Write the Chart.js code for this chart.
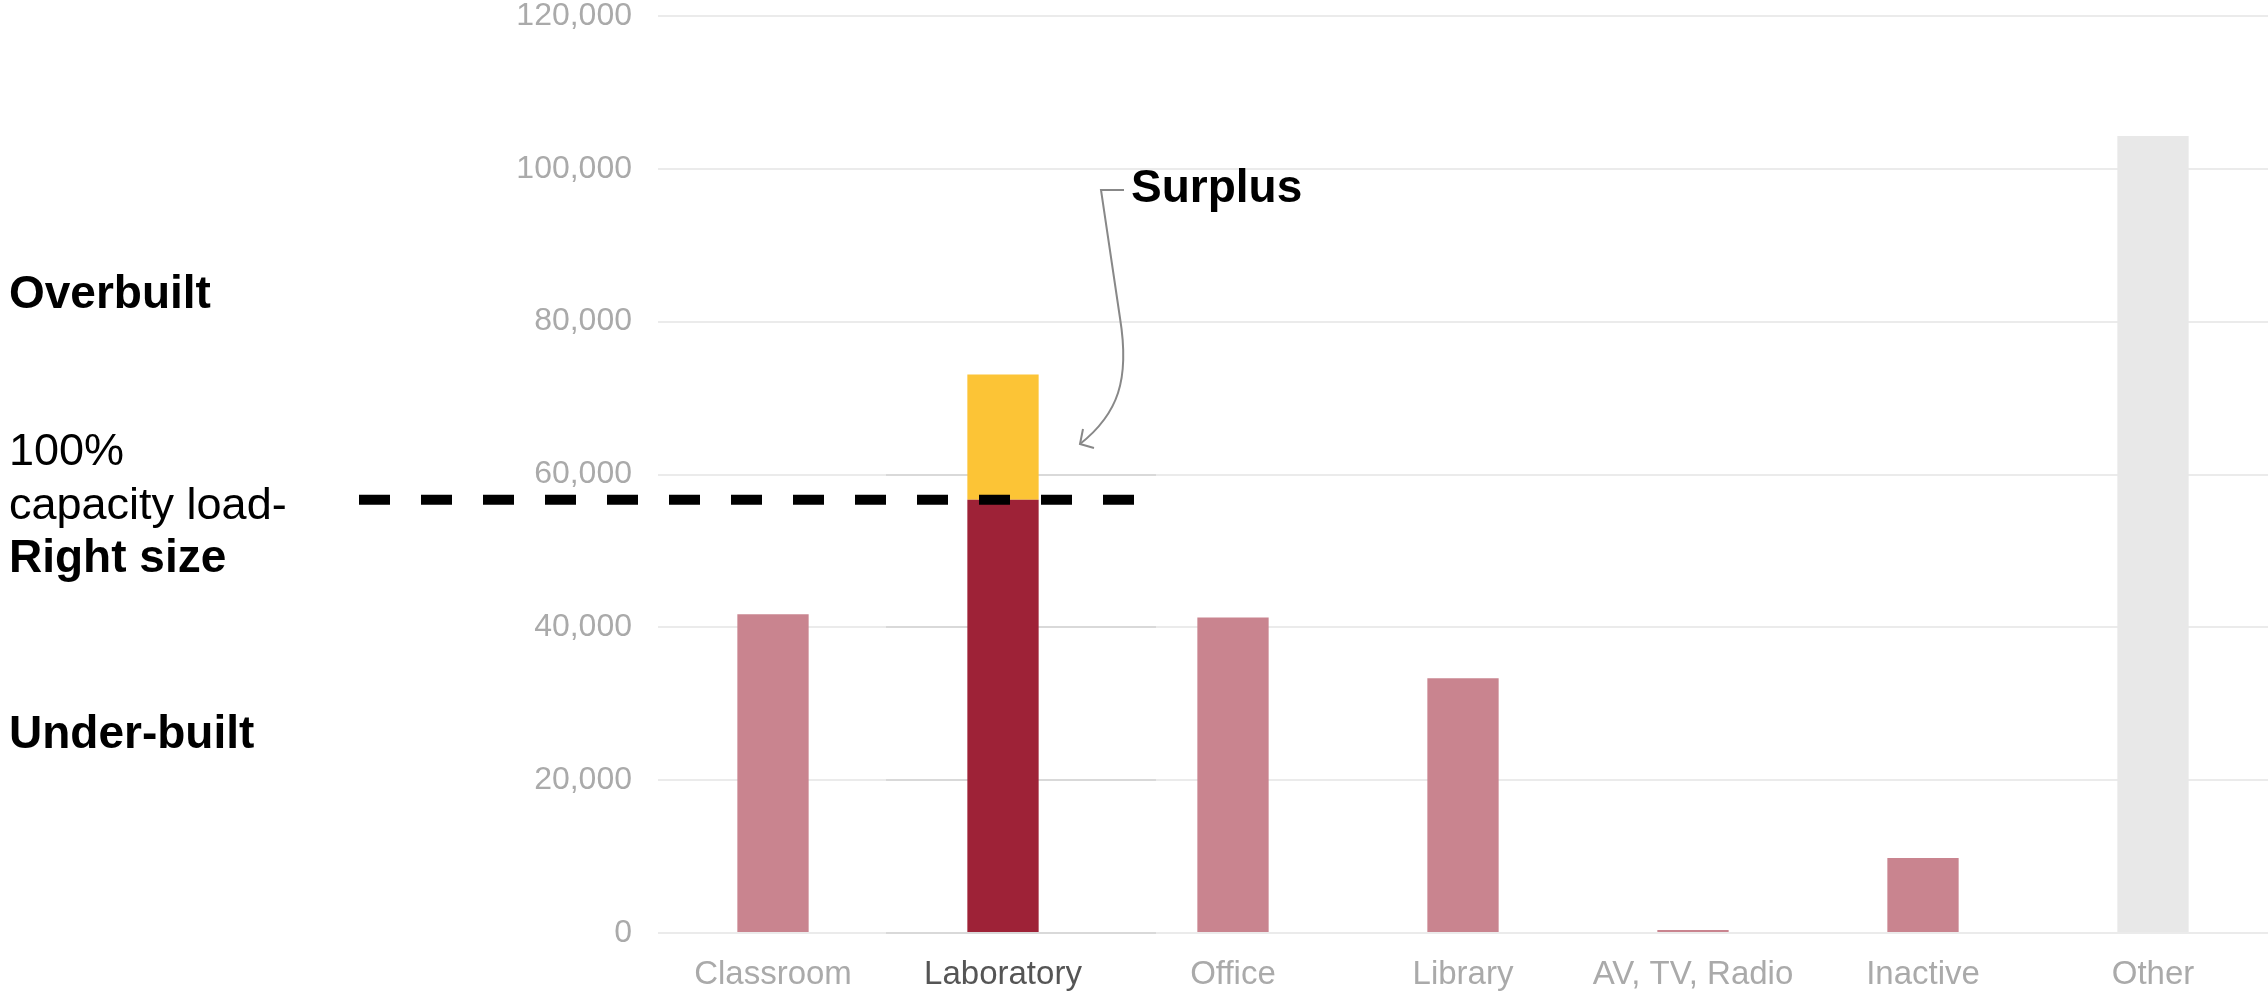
<!DOCTYPE html>
<html>
<head>
<meta charset="utf-8">
<script src="https://cdn.jsdelivr.net/npm/chart.js@4/dist/chart.umd.min.js"></script>
<style>
  body { margin: 0; background: #fff; }
  #chart { width: 2268px; height: 994px; }
</style>
</head>
<body>
<div id="chart"><canvas id="space" width="2268" height="994"></canvas></div>
<script>
const categories = ["Classroom", "Laboratory", "Office", "Library", "AV, TV, Radio", "Inactive", "Other"];
const spaceValues = [41700, 56700, 41300, 33350, 400, 9800, 104300];
const surplusValues = [0, 16400, 0, 0, 0, 0, 0];
const capacityLoad = 56700;
const yMax = 120000;
const yStep = 20000;
const highlightTicks = [0, 20000, 40000, 60000];

const pink = "#c9848f";
const spaceColors = [pink, "#9e2237", pink, pink, pink, pink, "#e8e8e8"];
const surplusColor = "#fcc436";

const FONT = "'Liberation Sans', Arial, sans-serif";

// dashed capacity line, side labels and the surplus callout
const annotations = {
  id: "annotations",
  beforeDatasetsDraw(chart) {
    const { ctx } = chart;
    const x = chart.scales.x;
    const y = chart.scales.y;
    const lab = x.getPixelForValue(1);
    ctx.save();
    ctx.strokeStyle = "#d9d9d9";
    ctx.lineWidth = 2;
    highlightTicks.forEach((v) => {
      const py = Math.round(y.getPixelForValue(v));
      ctx.beginPath();
      ctx.moveTo(lab - 117, py);
      ctx.lineTo(lab + 153, py);
      ctx.stroke();
    });
    ctx.restore();
  },
  afterDatasetsDraw(chart) {
    const { ctx } = chart;
    const x = chart.scales.x;
    const y = chart.scales.y;
    const lab = x.getPixelForValue(1);
    const py = y.getPixelForValue(capacityLoad);

    ctx.save();
    ctx.strokeStyle = "#000";
    ctx.lineWidth = 10;
    ctx.setLineDash([31, 31]);
    ctx.beginPath();
    ctx.moveTo(359, py);
    ctx.lineTo(lab + 136, py);
    ctx.stroke();
    ctx.setLineDash([]);

    ctx.fillStyle = "#000";
    ctx.textAlign = "left";
    ctx.textBaseline = "alphabetic";
    ctx.font = "bold 46px " + FONT;
    ctx.fillText("Overbuilt", 9, 308);
    ctx.fillText("Right size", 9, 572);
    ctx.fillText("Under-built", 9, 748);
    ctx.fillText("Surplus", 1131, 202);
    ctx.font = "45px " + FONT;
    ctx.fillText("100%", 9, 465);
    ctx.fillText("capacity load-", 9, 519);

    ctx.strokeStyle = "#888";
    ctx.lineWidth = 2;
    ctx.beginPath();
    ctx.moveTo(1124, 190);
    ctx.lineTo(1101, 190);
    ctx.lineTo(1120, 318);
    ctx.bezierCurveTo(1130, 380, 1118, 414, 1080, 444);
    ctx.stroke();
    ctx.beginPath();
    ctx.moveTo(1083, 429);
    ctx.lineTo(1080, 444);
    ctx.lineTo(1094, 448);
    ctx.stroke();
    ctx.restore();
  },
};

new Chart(document.getElementById("space"), {
  type: "bar",
  data: {
    labels: categories,
    datasets: [
      {
        label: "Space",
        data: spaceValues,
        backgroundColor: spaceColors,
        borderWidth: 0,
        categoryPercentage: 1,
        barPercentage: 0.31,
      },
      {
        label: "Surplus",
        data: surplusValues,
        backgroundColor: surplusColor,
        borderWidth: 0,
        categoryPercentage: 1,
        barPercentage: 0.31,
      },
    ],
  },
  options: {
    responsive: false,
    animation: false,
    devicePixelRatio: 1,
    layout: { padding: { top: 16, left: 0, right: 0, bottom: 0 } },
    plugins: { legend: { display: false }, tooltip: { enabled: false } },
    scales: {
      x: {
        stacked: true,
        grid: { display: false, drawTicks: false },
        border: { display: false },
        ticks: {
          padding: 22,
          font: { family: FONT, size: 33 },
          color: (c) => (c.index === 1 ? "#555" : "#aaa"),
        },
        afterFit(scale) {
          scale.height = 61;
          scale.paddingLeft = 0;
          scale.paddingRight = 0;
        },
      },
      y: {
        stacked: true,
        min: 0,
        max: yMax,
        grid: { color: "#ebebeb", lineWidth: 2, drawTicks: false },
        border: { display: false },
        ticks: {
          stepSize: yStep,
          padding: 26,
          font: { family: FONT, size: 32 },
          color: "#aaa",
          callback: (v) => v.toLocaleString("en-US"),
        },
        afterFit(scale) {
          scale.width = 658;
          scale.paddingTop = 0;
          scale.paddingBottom = 0;
        },
      },
    },
  },
  plugins: [annotations],
});
</script>
</body>
</html>
